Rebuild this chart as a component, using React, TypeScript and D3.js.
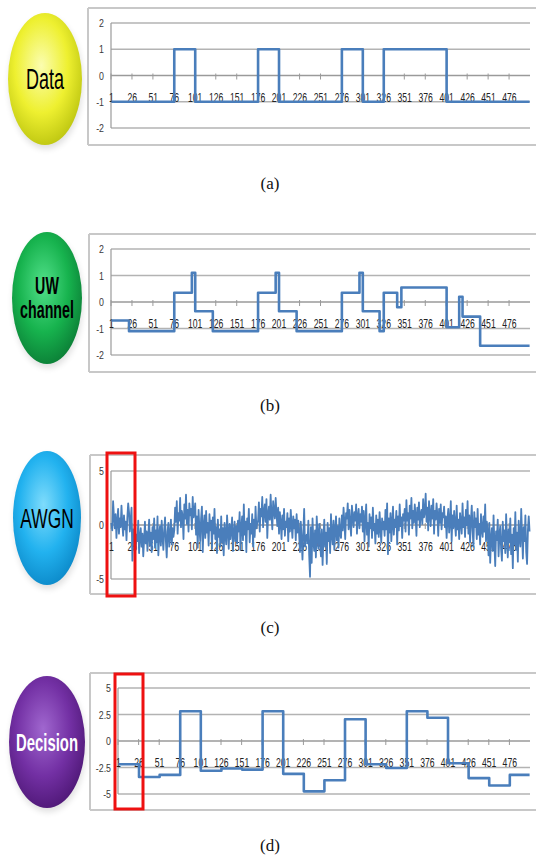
import React from "react";
import * as d3 from "d3";

// ---------- DATA ----------
const xTickLabels = [1, 26, 51, 76, 101, 126, 151, 176, 201, 226, 251, 276, 301, 326, 351, 376, 401, 426, 451, 476];
const nPoints = 500;

const dataStarts = [1, 76, 101, 176, 201, 276, 301, 326, 401];
const dataValues = [-1, 1, -1, 1, -1, 1, -1, 1, -1];

const uwStarts = [1, 22, 76, 97, 101, 122, 176, 197, 201, 222, 276, 297, 301, 321, 326, 342, 347, 401, 416, 420, 441];
const uwValues = [-0.7, -1.1, 0.35, 1.1, -0.35, -1.1, 0.35, 1.1, -0.35, -1.1, 0.35, 1.1, -0.35, -1.1, 0.35, -0.2, 0.55, -0.95, 0.2, -0.55, -1.65];

const decisionStarts = [1, 26, 51, 76, 101, 126, 151, 176, 201, 226, 251, 276, 301, 326, 351, 376, 401, 426, 451, 476];
const decisionValues = [-2.2, -3.4, -3.2, 2.8, -2.8, -2.6, -2.7, 2.8, -3.1, -4.75, -3.7, 2.05, -2.2, -2.55, 2.8, 2.2, -2.1, -3.5, -4.2, -3.2];

const awgnValues = [
  0.2, -0.5, 2.2, 0.8, -0.3, 1.0, -1.2, 0.4, 1.5, -0.8, 0.6, -0.2, 1.8, 0.1, -1.0, 0.9, -0.4, 0.3, -1.4, 0.7, 2.0, 1.2, -0.6, 0.5, 1.6,
  -3.3, -0.4, -1.8, 0.2, -2.2, -0.9, -1.5, 0.4, -2.6, -1.1, -0.3, -2.0, -0.8, -2.9, -1.4, 0.3, -1.7, -0.6, -2.4, -1.0, 0.5, -1.9, -0.7, -2.5, -0.2,
  -1.3, 0.6, -2.1, -0.5, -1.6, 0.8, -2.8, -0.9, -0.1, -1.9, 0.4, -1.2, -2.3, -0.4, 0.7, -1.5, -3.0, -0.6, 0.2, -2.0, -1.0, 0.5, -1.8, -0.3, -1.1,
  -0.5, 1.6, 0.3, 2.2, -0.8, 1.1, 0.4, 2.5, -0.2, 1.3, 0.8, -1.3, 1.9, 0.6, 2.8, 0.1, 1.4, -0.6, 2.0, 0.9, 1.5, -0.4, 2.6, 0.7, 1.2,
  2.0, -0.9, 0.8, -2.1, 1.4, -0.3, -1.5, 0.6, 1.7, -2.5, -0.1, 0.9, -1.2, 1.3, -0.7, 0.2, -1.9, 1.0, -0.5, 0.4, -2.2, 0.7, -0.8, 1.5, -1.3,
  -0.2, -2.6, 0.5, -1.1, -0.4, -2.0, 0.8, -1.6, -0.3, -2.8, 0.2, -0.9, -1.8, 0.9, -0.6, -2.2, 0.1, -1.3, -0.5, 0.7, -2.4, -0.8, 0.3, -1.5, -0.1,
  -1.7, 0.4, -0.6, 1.2, -2.3, -0.2, 0.8, -1.4, 1.9, -0.9, 0.3, -2.5, 0.6, -0.4, 1.5, -1.6, 0.1, -0.8, 1.0, -2.0, 0.5, -1.1, 1.7, -0.3, 0.2,
  0.4, 2.1, -0.6, 1.5, 0.8, 2.6, -0.2, 1.2, 1.9, 0.3, 2.4, -1.2, 1.0, 1.7, 0.5, 2.8, 0.9, -0.4, 2.2, 1.3, 0.6, 2.5, 1.1, -0.1, 1.6,
  -0.8, 1.2, 0.2, -1.3, 0.9, -0.4, 1.5, -1.0, 0.3, -0.2, 1.1, -1.5, 0.6, -0.6, 1.4, 0.0, -1.2, 0.8, -0.3, 0.5, -1.4, 1.0, -0.7, 0.4, -0.9,
  -2.5, 0.3, -1.4, -3.2, -0.6, 1.5, -2.0, -1.1, -0.9, -1.7, 0.4, -2.8, -4.8, -0.2, -3.5, 0.6, -1.5, -2.4, -0.5, -3.0, 0.8, -1.0, -2.2, 0.1, -1.3,
  -2.9, -0.4, -3.7, -1.2, 0.5, -2.0, -0.7, -3.6, 0.2, -1.5, -0.3, -2.6, 1.0, -0.9, -1.8, 0.4, -2.3, -0.5, 0.8, -1.4, -0.1, -2.1, 0.6, -0.8, -1.2,
  0.9, -0.5, 1.6, 0.2, -1.3, 1.1, 0.6, 2.0, -0.4, 1.4, 0.1, -1.0, 1.8, 0.7, -0.2, 1.2, 0.4, 1.9, -0.8, 0.8, 1.5, -0.3, 1.0, 0.3, 1.7,
  -0.6, 1.3, -1.5, 0.4, 1.9, -0.9, 0.2, -2.0, 1.0, -0.3, 0.7, -1.2, 1.6, -0.5, 0.1, -1.7, 0.9, -0.8, 0.5, -1.1, 1.2, -0.2, -1.6, 0.6, -0.4,
  0.3, -1.0, 1.4, -0.4, 2.0, -2.7, 0.6, -0.7, 1.1, -1.5, 0.2, 1.7, -0.9, 0.5, -0.2, 1.3, -1.8, 0.8, -0.5, 1.9, -0.1, 0.7, -1.2, 1.0, 0.4,
  1.5, -0.6, 2.3, 0.4, 1.1, -0.9, 1.8, 0.6, 2.5, -0.3, 1.3, 0.2, 1.9, 0.8, -1.0, 1.6, 0.5, 2.1, -0.2, 1.0, 1.4, 0.1, 2.4, 0.7, 1.2,
  2.9, 0.3, 1.6, -0.5, 2.2, 1.0, -0.1, 1.8, 0.6, 2.4, -0.8, 1.3, 0.5, 2.0, 0.9, -1.0, 1.5, 0.2, 1.9, -0.4, 1.1, 0.7, 1.7, -0.2, 0.8,
  -1.2, 0.6, 1.5, -0.7, 0.2, 2.2, -1.5, 0.9, -0.3, 1.3, 0.1, -1.0, 1.8, -0.4, 0.5, -1.3, 1.1, 0.3, -0.8, 2.0, -0.2, 0.7, -1.1, 1.4, 0.0,
  2.2, -0.8, 0.9, -1.6, 0.4, 1.8, -0.5, -2.0, 1.2, -0.2, 0.6, -1.3, 1.5, -0.9, 0.1, -1.8, 1.0, -0.4, -1.1, 0.8, -0.6, 1.9, -1.5, 0.3, -0.7,
  -2.8, 0.2, -3.5, -1.2, -0.3, -2.4, 0.9, -1.7, -3.8, -0.6, -1.4, 0.5, -2.9, -0.9, -0.1, -2.2, -3.3, 0.3, -1.5, -0.5, -2.6, 1.0, -1.1, -3.0, -0.4,
  -1.6, 0.6, -2.7, -0.9, -4.0, -0.3, -1.8, 1.2, -2.3, -0.7, -3.4, 0.4, -1.2, -2.0, 1.5, -0.8, -3.1, -0.2, -1.5, 0.9, -2.5, -3.6, -0.5, 0.8, -0.6,
];

const yTicksAB = [2, 1, 0, -1, -2];
const yTicksC = [5, 0, -5];
const yTicksD = [5, 2.5, 0, -2.5, -5];

// ---------- LAYOUT ----------
const LINE = "#4a7ebb";
const GRID = "#b3b3b3";

type Pts = [number, number][];

function stepPoints(starts: number[], values: number[]): Pts {
  const pts: Pts = starts.map((s, i) => [s, values[i]] as [number, number]);
  pts.push([nPoints, values[values.length - 1]]);
  return pts;
}

const panels = [
  {
    key: "a", label: ["Data"], textColor: "#000", bold: false, fs: 29,
    colors: ["#fbfdb0", "#eef030", "#b9c20e"],
    bubble: { cx: 45, cy: 79, rx: 37, ry: 66 },
    frame: { top: 8, bottom: 145, left: 88 },
    plot: { x0: 111, x1: 530, yTop: 23, yBot: 128 },
    domain: [-2, 2], yTicks: yTicksAB, fmt: (v: number) => String(v),
    pts: stepPoints(dataStarts, dataValues), step: true, lw: 2.6,
    caption: "(a)", capY: 189, red: null as null | { x: number; y: number; w: number; h: number },
  },
  {
    key: "b", label: ["UW", "channel"], textColor: "#000", bold: true, fs: 23,
    colors: ["#52e08a", "#17b34e", "#0a7a34"],
    bubble: { cx: 47, cy: 298, rx: 35, ry: 66 },
    frame: { top: 234, bottom: 372, left: 89 },
    plot: { x0: 111, x1: 530, yTop: 249, yBot: 355 },
    domain: [-2, 2], yTicks: yTicksAB, fmt: (v: number) => String(v),
    pts: stepPoints(uwStarts, uwValues), step: true, lw: 2.6,
    caption: "(b)", capY: 411, red: null,
  },
  {
    key: "c", label: ["AWGN"], textColor: "#000", bold: false, fs: 28,
    colors: ["#7fdcfc", "#22b2ef", "#0a86c6"],
    bubble: { cx: 47, cy: 518, rx: 34, ry: 67 },
    frame: { top: 455, bottom: 594, left: 90 },
    plot: { x0: 111, x1: 530, yTop: 471, yBot: 579 },
    domain: [-5, 5], yTicks: yTicksC, fmt: (v: number) => String(v),
    pts: awgnValues.map((v, i) => [i + 1, v] as [number, number]), step: false, lw: 1.8,
    caption: "(c)", capY: 633, red: { x: 107, y: 453, w: 28, h: 143 },
  },
  {
    key: "d", label: ["Decision"], textColor: "#fff", bold: true, fs: 24,
    colors: ["#a067cf", "#7330a4", "#4c1673"],
    bubble: { cx: 47, cy: 742, rx: 38, ry: 66 },
    frame: { top: 673, bottom: 810, left: 90 },
    plot: { x0: 118, x1: 530, yTop: 688, yBot: 794 },
    domain: [-5, 5], yTicks: yTicksD, fmt: (v: number) => String(v),
    pts: stepPoints(decisionStarts, decisionValues), step: true, lw: 2.6,
    caption: "(d)", capY: 851, red: { x: 115, y: 674, w: 28, h: 135 },
  },
];

function Panel({ p }: { p: (typeof panels)[number] }) {
  const x = d3.scaleLinear().domain([0.5, nPoints + 0.5]).range([p.plot.x0, p.plot.x1]);
  const y = d3.scaleLinear().domain(p.domain).range([p.plot.yBot, p.plot.yTop]);
  const line = d3
    .line<[number, number]>()
    .x((d) => x(d[0]))
    .y((d) => y(d[1]))
    .curve(p.step ? d3.curveStepAfter : d3.curveLinear);
  const y0 = y(0);
  const gid = `grad-${p.key}`;
  const b = p.bubble;
  const lineH = p.fs * 1.05;
  return (
    <g>
      {/* chart area frame */}
      <line x1={p.frame.left} x2={536} y1={p.frame.top} y2={p.frame.top} stroke="#c8c8c8" strokeWidth={2} />
      <line x1={p.frame.left} x2={536} y1={p.frame.bottom} y2={p.frame.bottom} stroke="#c8c8c8" strokeWidth={2} />
      <line x1={p.frame.left} x2={p.frame.left} y1={p.frame.top} y2={p.frame.bottom} stroke="#c8c8c8" strokeWidth={2} />
      {/* gridlines */}
      {p.yTicks.map((t) => (
        <line key={t} x1={p.plot.x0} x2={p.plot.x1} y1={y(t)} y2={y(t)} stroke={t === 0 ? "#9a9a9a" : GRID} strokeWidth={1.3} />
      ))}
      <line x1={p.plot.x0} x2={p.plot.x0} y1={p.plot.yTop} y2={p.plot.yBot} stroke="#9a9a9a" strokeWidth={1.2} />
      {p.yTicks.map((t) => (
        <g key={"yl" + t} transform={`translate(${p.plot.x0 - 7},${y(t) + 4}) scale(0.8,1)`}>
          <text textAnchor="end" fontSize={11} fill="#3a3a3a" fontFamily="Liberation Sans, Arial, sans-serif">
            {p.fmt(t)}
          </text>
        </g>
      ))}
      {/* x ticks and labels */}
      {xTickLabels.map((t) => (
        <g key={"xt" + t}>
          <line x1={x(t) - 0.4} x2={x(t) - 0.4} y1={y0 - 2} y2={y0 + 4} stroke="#9a9a9a" strokeWidth={1} />
          <g transform={`translate(${x(t)},${y0 + 26}) scale(0.72,1)`}>
            <text textAnchor="middle" fontSize={12} fill="#222" fontFamily="Liberation Sans, Arial, sans-serif">
              {t}
            </text>
          </g>
        </g>
      ))}
      {/* series line */}
      <path d={line(p.pts) || ""} fill="none" stroke={LINE} strokeWidth={p.lw} strokeLinejoin="round" />
      {p.red && (
        <rect x={p.red.x} y={p.red.y} width={p.red.w} height={p.red.h} fill="none" stroke="#ee1111" strokeWidth={3} />
      )}
      {/* bubble */}
      <defs>
        <radialGradient id={gid} cx="45%" cy="40%" r="65%">
          <stop offset="0%" stopColor={p.colors[0]} />
          <stop offset="55%" stopColor={p.colors[1]} />
          <stop offset="100%" stopColor={p.colors[2]} />
        </radialGradient>
      </defs>
      <ellipse cx={b.cx + 1} cy={b.cy + 4} rx={b.rx} ry={b.ry} fill="#000" opacity={0.12} filter="url(#blur)" />
      <ellipse cx={b.cx} cy={b.cy} rx={b.rx} ry={b.ry} fill={`url(#${gid})`} />
      <g transform={`translate(${b.cx},${b.cy}) scale(0.62,1)`}>
        <text
          textAnchor="middle"
          fontSize={p.fs}
          fontWeight={p.bold ? "bold" : "normal"}
          fill={p.textColor}
          fontFamily="Liberation Sans, Arial, sans-serif"
        >
          {p.label.map((s, i) => (
            <tspan key={s} x={0} y={(i - (p.label.length - 1) / 2) * lineH + p.fs * 0.36}>
              {s}
            </tspan>
          ))}
        </text>
      </g>
      {/* caption */}
      <text x={270} y={p.capY} textAnchor="middle" fontSize={17} fill="#111" fontFamily="Liberation Serif, Times New Roman, serif">
        {p.caption}
      </text>
    </g>
  );
}

export default function App() {
  return (
    <svg
      width={536}
      height={860}
      viewBox="0 0 536 860"
      style={{ position: "absolute", left: 0, top: 0, display: "block", background: "#fff" }}
    >
      <defs>
        <filter id="blur" x="-30%" y="-30%" width="160%" height="160%">
          <feGaussianBlur stdDeviation={3} />
        </filter>
      </defs>
      <rect width={536} height={860} fill="#fff" />
      {panels.map((p) => (
        <Panel key={p.key} p={p} />
      ))}
    </svg>
  );
}
